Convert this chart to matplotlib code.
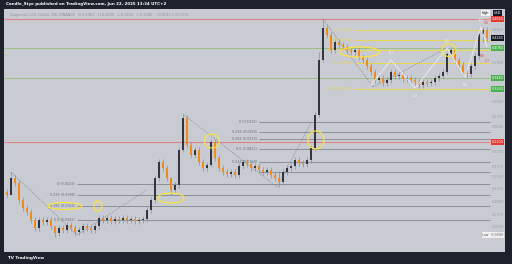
import matplotlib.pyplot as plt
import numpy as np
from matplotlib.patches import Ellipse

# weekly closes (price units)
closes = [0.114, 0.148, 0.138, 0.104, 0.088, 0.080, 0.064, 0.048, 0.064, 0.060,
          0.064, 0.052, 0.038, 0.048, 0.044, 0.054, 0.048, 0.040, 0.044, 0.052,
          0.048, 0.044, 0.052, 0.068, 0.064, 0.068, 0.062, 0.066, 0.064, 0.068,
          0.064, 0.066, 0.062, 0.064, 0.066, 0.084, 0.104, 0.148, 0.180, 0.168,
          0.148, 0.124, 0.134, 0.204, 0.268, 0.214, 0.194, 0.204, 0.180, 0.168,
          0.174, 0.220, 0.188, 0.168, 0.160, 0.156, 0.160, 0.154, 0.172, 0.180,
          0.176, 0.168, 0.172, 0.164, 0.160, 0.164, 0.154, 0.148, 0.140, 0.160,
          0.168, 0.172, 0.184, 0.178, 0.176, 0.184, 0.208, 0.274, 0.384, 0.448,
          0.434, 0.404, 0.420, 0.414, 0.410, 0.404, 0.400, 0.404, 0.390, 0.384,
          0.372, 0.360, 0.344, 0.348, 0.338, 0.344, 0.360, 0.352, 0.354, 0.346,
          0.348, 0.344, 0.340, 0.334, 0.340, 0.338, 0.340, 0.348, 0.352, 0.360,
          0.396, 0.404, 0.384, 0.374, 0.360, 0.356, 0.372, 0.392, 0.436, 0.444,
          0.428]
first_open = 0.120
# notable wick extremes {candle: (high, low)}
wick_extremes = {1: (0.160, 0.140), 12: (0.052, 0.030), 41: (0.150, 0.114),
                 44: (0.276, 0.200), 51: (0.226, 0.170), 68: (0.162, 0.130),
                 78: (0.400, 0.270), 79: (0.466, 0.380), 110: (0.400, 0.356),
                 119: (0.450, 0.420)}
wick_default = 0.006

# horizontal levels
red_levels = [0.466, 0.220]
green_levels = [0.408, 0.348]
yellow_fib = [(0.444, "0 (0.4406)"), (0.424, "0.236 (0.3000)"), (0.404, "0.382 (0.3765)"),
              (0.378, "0.5 (0.3495)"), (0.326, "0.618 (0.3240)")]
mid_fib = [(0.260, "0 (0.1013)"), (0.240, "0.236 (0.0950)"), (0.226, "0.382 (0.0875)"),
           (0.206, "0.5 (0.0821)"), (0.180, "0.618 (0.0768)")]
low_fib = [(0.136, "0 (0.0413)"), (0.114, "0.236 (0.0388)"), (0.092, "0.382 (0.0365)"),
           (0.064, "0.5 (0.0342)")]
extra_grey = [0.160]

axis_ticks = [0.444, 0.378, 0.300, 0.270, 0.250, 0.200, 0.170, 0.150, 0.125, 0.100, 0.075, 0.050]

wave_x = [91, 96, 102, 110, 114.5, 118.5, 120]
wave_y = [0.334, 0.384, 0.328, 0.408, 0.350, 0.450, 0.410]
wave_labels = ["", "(1)", "(2)", "(3)", "(4)", "(5)", ""]

bg = "#c8cbd2"
frame = "#1e222d"
up_col = "#33363e"
down_col = "#f08c1e"

fig = plt.figure(figsize=(5.12, 2.64), dpi=100, facecolor=frame)
W, H = 512, 264
ax = fig.add_axes([4 / W, 1 - 252 / H, 501 / W, 243 / H])
ax.set_facecolor(bg)
ax.set_xlim(-0.75, 124.5)
ax.set_ylim(0, 0.486)
ax.set_xticks([])
ax.set_yticks([])
for s in ax.spines.values():
    s.set_visible(False)

n = len(closes)
x = np.arange(n)
opens = [first_open] + closes[:-1]
highs, lows = [], []
for i in range(n):
    hi = max(opens[i], closes[i]) + wick_default
    lo = min(opens[i], closes[i]) - wick_default
    if i in wick_extremes:
        hi, lo = wick_extremes[i]
    highs.append(hi)
    lows.append(lo)

xr = 120.8  # end of drawn lines
for lv in red_levels:
    ax.hlines(lv, -0.75, xr, color="#e57373", lw=0.8, alpha=0.8, zorder=1)
for lv in green_levels:
    ax.hlines(lv, -0.75, xr, color="#9bbf86", lw=0.7, zorder=1)
for lv, lab in yellow_fib:
    ax.hlines(lv, 87, xr, color="#e9d84a", lw=0.7, zorder=1)
    ax.text(86.5, lv, lab, fontsize=2.4, color="#e9d84a", ha="right", va="center")
for lv, lab in mid_fib:
    ax.hlines(lv, 63, xr, color="#8d9097", lw=0.7, zorder=1)
    ax.text(62.5, lv, lab, fontsize=2.4, color="#6b6e75", ha="right", va="center")
for lv, lab in low_fib:
    ax.hlines(lv, 17.5, xr, color="#8d9097", lw=0.7, zorder=1)
    ax.text(17, lv, lab, fontsize=2.4, color="#6b6e75", ha="right", va="center")
for lv in extra_grey:
    ax.hlines(lv, 63, xr, color="#8d9097", lw=0.7, zorder=1)

# dotted swing connectors
swings = [([1, 17.5], [0.160, 0.034]), ([17.5, 35], [0.034, 0.124]),
          ([44, 67.5], [0.276, 0.130]), ([67.5, 76], [0.130, 0.258]),
          ([79, 91.5], [0.466, 0.330]), ([91.5, 110], [0.330, 0.408])]
for sx, sy in swings:
    ax.plot(sx, sy, color="#7d8087", lw=0.6, ls=(0, (1, 1.5)), zorder=1)

# candles
for i in range(n):
    col = up_col if closes[i] >= opens[i] else down_col
    ax.vlines(x[i], lows[i], highs[i], color="#8a8d94", lw=0.5, zorder=2)
    b0 = min(opens[i], closes[i])
    bh = max(abs(closes[i] - opens[i]), 0.002)
    ax.bar(x[i], bh, bottom=b0, width=0.45, color=col, zorder=3)

# elliott wave
ax.plot(wave_x, wave_y, color="#f2f2f2", lw=0.6, alpha=0.9, zorder=4)
lab_off = {1: 0.014, 2: -0.016, 3: 0.014, 4: -0.016, 5: 0.014}
for i, lab in enumerate(wave_labels):
    if lab:
        ax.text(wave_x[i], wave_y[i] + lab_off[i], lab, fontsize=2.6, color="#f4f4f4",
                ha="center", va="center", zorder=5)
for tx, ty, lab in [(119.8, 0.458, "(B)"), (118.8, 0.392, "(A)"), (120, 0.382, "(C)")]:
    ax.text(tx, ty, lab, fontsize=2.6, color="#e05050", ha="center", va="center", zorder=5)

# yellow ellipses (centre px, width px, height px)
ellipses = [(65, 206, 34, 7), (98, 206, 8, 10), (171, 198, 26, 10), (212, 141, 15, 14),
            (316, 140, 16, 18), (360, 52, 40, 10), (449, 50, 14, 13)]
for cx, cy, w, h in ellipses:
    ax.add_patch(Ellipse(((cx - 7) / 4, (252 - cy) * 0.002), w / 4, h * 0.002,
                         fill=False, ec="#ffe633", lw=0.8, zorder=6))

# price axis labels
for t in axis_ticks:
    ax.text(122.6, t, f"{t:.4f}", fontsize=2.4, color="#9a9da4", ha="center", va="center")
boxes = [(0.466, "0.4660", "#e53935", "white"), (0.428, "0.4280", "#131722", "white"),
         (0.408, "0.4080", "#4caf50", "white"), (0.348, "0.3480", "#4caf50", "white"),
         (0.326, "0.3260", "#4caf50", "white"), (0.220, "0.2200", "#e53935", "white")]
for yv, lab, fc, tc in boxes:
    ax.text(122.6, yv, lab, fontsize=2.4, color=tc, ha="center", va="center", zorder=7,
            bbox=dict(boxstyle="square,pad=0.25", fc=fc, ec="none"))
ax.text(122.6, 0.478, "USD", fontsize=2.4, color="white", ha="center", va="center",
        bbox=dict(boxstyle="square,pad=0.25", fc="#131722", ec="none"))
ax.text(119.6, 0.478, "High", fontsize=2.3, color="#131722", ha="center", va="center",
        bbox=dict(boxstyle="square,pad=0.2", fc="#f0f0f0", ec="none"))
ax.text(121.5, 0.034, "Low   0.0300", fontsize=2.3, color="#555", ha="center", va="center",
        bbox=dict(boxstyle="square,pad=0.25", fc="#f0f0f0", ec="none"))

ax.text(0.012, 0.975, "Dogecoin / U.S. Dollar, 1W, BINANCE   O 0.1962   H 0.4030   L 0.1350   "
        "C 0.1580   +0.0011 (+0.71%)", transform=ax.transAxes, fontsize=2.5,
        color="#8a8d94", ha="left", va="center")

fig.text(6 / W, 1 - 4 / H, "Candle_Stye published on TradingView.com, Jun 22, 2025 13:34 UTC+2",
         fontsize=2.9, color="white", ha="left", va="center", weight="bold")
fig.text(8 / W, 1 - 258 / H, "TV TradingView", fontsize=3, color="white", ha="left",
         va="center", weight="bold")

fig.savefig("out.png", dpi=100, facecolor=frame)
